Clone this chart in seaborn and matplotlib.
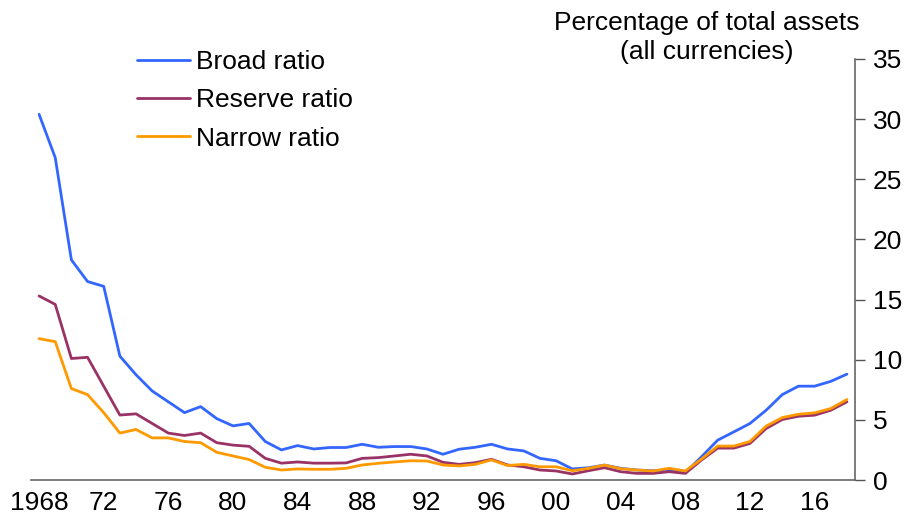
"""
plot.py - broad / reserve / narrow ratios, share of total assets, 1968-2018.
"""

import numpy as np
import pandas as pd
import matplotlib
matplotlib.use("Agg")
import matplotlib.pyplot as plt
from matplotlib.ticker import MultipleLocator, FixedLocator
import seaborn as sns

years = list(range(1968, 2019))

broad = [30.4, 26.8, 18.3, 16.5, 16.1, 10.3, 8.75, 7.4, 6.5, 5.6, 6.1, 5.1, 4.5, 4.7,
         3.2, 2.5, 2.86, 2.58, 2.7, 2.7, 2.97, 2.72, 2.78, 2.78, 2.58, 2.14, 2.56, 2.72,
         2.97, 2.58, 2.42, 1.8, 1.6,
         0.92, 1.02, 1.24, 0.97, 0.83, 0.77, 0.83, 0.61, 1.93, 3.31, 4.0, 4.7, 5.8, 7.1,
         7.8, 7.8, 8.2, 8.8]
reserve = [15.3, 14.6, 10.1, 10.2, 7.8, 5.4, 5.5, 4.7, 3.9, 3.7, 3.9, 3.1, 2.9, 2.8,
           1.8, 1.4, 1.5, 1.4, 1.4, 1.42, 1.8, 1.86, 2.0, 2.14, 2.0, 1.47, 1.3, 1.44,
           1.72, 1.25, 1.1, 0.83, 0.75,
           0.5, 0.77, 1.02, 0.69, 0.55, 0.55, 0.69, 0.55, 1.66, 2.65, 2.65, 3.04, 4.28,
           5.03, 5.3, 5.39, 5.8, 6.5]
narrow = [11.75, 11.5, 7.6, 7.1, 5.6, 3.9, 4.2, 3.5, 3.5, 3.2, 3.1, 2.3, 2.0, 1.7,
          1.06, 0.83, 0.92, 0.89, 0.89, 0.97, 1.25, 1.39, 1.5, 1.6, 1.58, 1.25, 1.17, 1.3,
          1.67, 1.2, 1.3, 1.1, 1.1,
          0.77, 0.97, 1.24, 0.94, 0.83, 0.75, 0.97, 0.75, 1.74, 2.82, 2.82, 3.2, 4.48,
          5.19, 5.47, 5.58, 5.94, 6.69]

series_names = ["Broad ratio", "Reserve ratio", "Narrow ratio"]
colors = ["#3366FF", "#993366", "#FF9900"]
label_years = list(range(1968, 2017, 4))
label_text = ["1968"] + [f"{y % 100:02d}" for y in label_years[1:]]

sns.set_style("white")
plt.rcParams["font.family"] = ["Liberation Sans", "DejaVu Sans"]
plt.rcParams.update({"text.color": "black", "xtick.labelcolor": "black",
                     "ytick.labelcolor": "black"})
FS = 19
LW = 2.0

df = pd.DataFrame({"year": years * 3,
                   "value": broad + reserve + narrow,
                   "series": sum([[n] * len(years) for n in series_names], [])})

fig = plt.figure(figsize=(9.09, 5.27), dpi=100)
ax = fig.add_axes([31 / 909, 1 - 480 / 527, (855 - 31) / 909, (480 - 59) / 527])

sns.lineplot(data=df, x="year", y="value", hue="series", hue_order=series_names,
             palette=colors, lw=LW, ax=ax, legend=False)

ax.set_xlim(1967.5, 2018.5)
ax.set_ylim(0, 35)
ax.set_xlabel(""); ax.set_ylabel("")

# x axis: labels every 4 years, small inward ticks between years
ax.xaxis.set_major_locator(FixedLocator(label_years))
ax.set_xticklabels(label_text, fontsize=FS)
ax.xaxis.set_minor_locator(FixedLocator(np.arange(1967.5, 2019, 1.0)))
ax.tick_params(axis="x", which="major", length=0, pad=8)
ax.tick_params(axis="x", which="minor", direction="in", length=8, width=1, color="#444444")

# y axis on the right
ax.yaxis.tick_right()
ax.yaxis.set_major_locator(MultipleLocator(5))
ax.tick_params(axis="y", direction="out", length=7, width=1, color="#555555",
               labelsize=FS, pad=6)

for s in ["left", "top"]:
    ax.spines[s].set_visible(False)
for s in ["bottom", "right"]:
    ax.spines[s].set_color("#666666"); ax.spines[s].set_linewidth(1.2)

handles = [plt.Line2D([], [], color=c, lw=LW) for c in colors]
fig.legend(handles, series_names, loc="upper left", bbox_to_anchor=(137 / 909, 1 - 50 / 527),
           frameon=False, fontsize=FS, handlelength=2.0, handletextpad=0.25,
           labelspacing=0.54, borderpad=0, borderaxespad=0)

fig.text(707 / 909, 1 - 11 / 527, "Percentage of total assets\n(all currencies)",
         ha="center", va="top", fontsize=FS, linespacing=1.27)

fig.savefig("out.png", dpi=100)
